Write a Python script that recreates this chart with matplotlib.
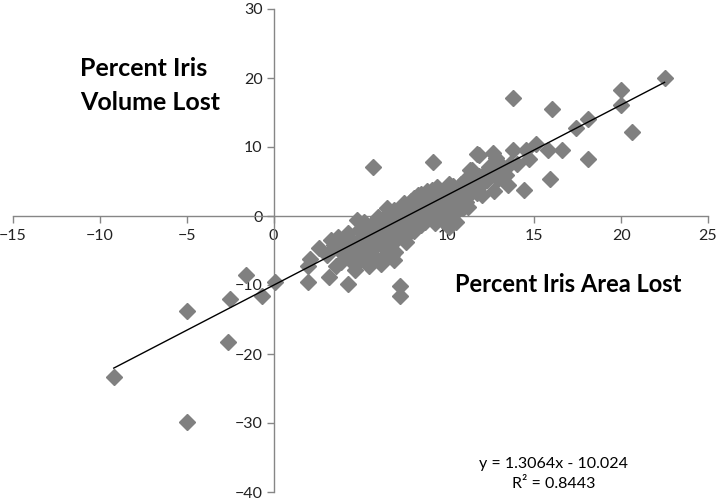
import numpy as np
import matplotlib
matplotlib.use("Agg")
import matplotlib.pyplot as plt

plt.rcParams['font.family'] = ['Lato', 'DejaVu Sans']

# outlying / clearly separable points
x_out = [-9.2, -5.0, -5.0, -2.6, -2.5, -1.6, -0.65, 0.1,
         1.95, 2.0, 2.1, 2.6, 3.1, 3.3, 3.2, 3.7, 4.1, 4.6, 4.7, 4.3, 4.8, 5.2,
         5.7, 6.0, 6.5, 7.0, 7.7, 7.3, 7.3, 9.2, 6.5, 7.5, 8.3, 9.4, 10.1, 10.9,
         11.2, 10.1, 10.5, 11.7, 11.3, 11.7,
         22.5, 20.0, 20.0, 20.6, 16.0, 13.8, 18.1, 17.4, 18.1, 16.6, 15.8, 15.9,
         15.1, 14.7, 14.5, 14.4, 13.8, 13.5, 14.0, 12.7, 12.6, 11.8, 12.4, 13.0,
         13.1, 11.4, 11.0, 12.1, 13.6]
y_out = [-23.3, -29.8, -13.8, -18.3, -12.0, -8.5, -11.6, -9.6,
         -9.5, -7.3, -6.3, -4.6, -5.6, -3.5, -8.8, -3.0, -3.2, -4.6, -7.8, -9.9, -0.6, -0.9,
         7.1, -0.1, -4.9, -5.2, -2.7, -10.2, -11.6, 7.8, 1.2, 1.9, 3.0, 4.2, 4.7, 1.2,
         1.3, -1.6, -0.9, 9.0, 6.6, 3.3,
         20.0, 18.3, 16.1, 12.2, 15.5, 17.1, 14.0, 12.8, 8.2, 9.5, 9.5, 5.3,
         10.5, 8.3, 9.5, 3.7, 9.5, 4.5, 7.6, 3.6, 9.1, 8.8, 7.1, 7.5,
         6.2, 6.6, 5.2, 5.6, 7.6]

# dense central band
x_band = [3.5, 3.8, 3.9, 4.0, 4.2, 4.3, 4.4, 4.5, 4.6, 4.8, 4.9, 5.0, 5.0, 5.1, 5.2,
          5.3, 5.4, 5.5, 5.5, 5.6, 5.7, 5.8, 5.8, 5.9, 6.0, 6.1, 6.1, 6.2, 6.3, 6.3,
          6.4, 6.5, 6.6, 6.6, 6.7, 6.8, 6.8, 6.9, 6.9, 7.0, 7.0, 7.1, 7.2, 7.2, 7.3,
          7.3, 7.4, 7.5, 7.5, 7.6, 7.6, 7.7, 7.8, 7.8, 7.9, 7.9, 8.0, 8.0, 8.1, 8.1,
          8.2, 8.2, 8.3, 8.4, 8.4, 8.5, 8.5, 8.6, 8.6, 8.7, 8.7, 8.8, 8.8, 8.9, 9.0,
          9.0, 9.1, 9.1, 9.2, 9.2, 9.3, 9.4, 9.4, 9.5, 9.5, 9.6, 9.7, 9.7, 9.8, 9.9,
          9.9, 10.0, 10.0, 10.2, 10.2, 10.3, 10.4, 10.5, 10.6, 10.7, 10.8, 10.9, 11.0,
          11.1, 11.2, 11.4, 11.5, 11.6, 11.8, 12.0, 12.2, 12.3, 12.5, 12.8, 12.9, 13.2,
          13.4, 12.0, 12.8, 6.2, 6.9, 3.6]
y_band = [-4.2, -5.0, -6.6, -4.0, -5.5, -2.5, -6.2, -3.6, -7.0, -5.2, -2.0, -4.2, -6.3, -3.0, -5.5,
          -1.6, -4.5, -2.6, -7.2, -3.6, -5.8, -0.8, -2.0, -4.4, -3.0, -1.5, -6.4, -2.4, -0.4, -4.0,
          -1.0, -2.8, 0.2, -3.8, -1.8, -0.6, -5.6, 0.8, -2.4, -1.2, 0.0, -3.4, 0.5, -1.8, 1.2,
          -0.4, -2.6, 0.2, -1.0, 1.5, -3.8, -0.2, 0.8, -1.6, 2.2, 0.0, 1.0, -0.9, 2.6, -2.2,
          0.4, 1.6, -0.4, 2.0, 0.9, -1.3, 3.2, 1.3, 0.0, 2.5, -0.8, 1.8, 3.6, 0.6, 2.8,
          -0.2, 1.6, 3.8, 0.9, 2.2, -1.0, 3.0, 1.2, 2.4, 0.3, 3.6, 1.8, -0.6, 2.9, 1.0,
          3.9, 2.2, 0.2, 3.2, 1.4, 4.3, 2.6, 0.6, 3.6, 1.8, 4.6, 2.8, 3.8,
          2.0, 4.8, 3.5, 5.2, 4.2, 5.8, 4.6, 6.4, 5.2, 6.0, 6.8, 5.4, 7.0,
          5.9, 3.0, 8.4, -7.0, -6.4, -7.2]

x_all = np.array(x_out + x_band)
y_all = np.array(y_out + y_band)

slope, intercept = 1.3064, -10.024

fig = plt.figure(figsize=(7.19, 5.01), dpi=100)
ax = fig.add_axes([13 / 719, 9 / 501, 695 / 719, 483 / 501])

ax.plot(x_all, y_all, linestyle='none', marker='D', ms=7.8,
        color='#808080', mec='#808080', zorder=3)

xl = np.array([x_all.min(), x_all.max()])
ax.plot(xl, slope * xl + intercept, color='black', lw=1.0, zorder=4)

ax.set_xlim(-15, 25)
ax.set_ylim(-40, 30)
ax.set_xticks(np.arange(-15, 26, 5))
ax.set_yticks(np.arange(-40, 31, 10))

for side in ['top', 'right']:
    ax.spines[side].set_visible(False)
ax.spines['left'].set_position(('data', 0))
ax.spines['bottom'].set_position(('data', 0))
for side in ['left', 'bottom']:
    ax.spines[side].set_color('#868686')
    ax.spines[side].set_linewidth(1.0)
ax.tick_params(axis='both', color='#868686', length=5, width=1.0,
               labelsize=11.5, labelcolor='#222222', direction='out')
ax.tick_params(axis='x', pad=4)
ax.tick_params(axis='y', pad=3)

ax.text(16.1, -35.9, 'y = 1.3064x - 10.024', ha='center', va='center', fontsize=11.5)
ax.text(16.1, -38.8, 'R² = 0.8443', ha='center', va='center', fontsize=11.5)

fig.text(80 / 719, 1 - 68 / 501, 'Percent Iris', ha='left', va='center',
         fontsize=18, fontweight='bold')
fig.text(80 / 719, 1 - 103 / 501, 'Volume Lost', ha='left', va='center',
         fontsize=18, fontweight='bold')
fig.text(455 / 719, 1 - 285 / 501, 'Percent Iris Area Lost', ha='left', va='center',
         fontsize=17, fontweight='bold')

fig.savefig('out.png', dpi=100)
